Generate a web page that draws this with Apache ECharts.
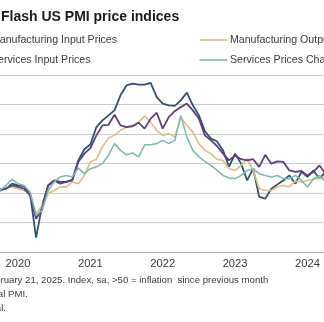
<!DOCTYPE html>
<html>
<head>
<meta charset="utf-8">
<script src="https://cdn.jsdelivr.net/npm/echarts@6/dist/echarts.min.js"></script>
<style>
  html, body { margin: 0; padding: 0; width: 324px; height: 322px; overflow: hidden; background: #fff; }
  #chart { position: absolute; left: -100px; top: 0; width: 544px; height: 322px; }
</style>
</head>
<body>
<div id="chart"></div>
<script>
// Monthly categories, Sep 2019 .. Sep 2024
const months = [
  '2019-09','2019-10','2019-11','2019-12',
  '2020-01','2020-02','2020-03','2020-04','2020-05','2020-06','2020-07','2020-08','2020-09','2020-10','2020-11','2020-12',
  '2021-01','2021-02','2021-03','2021-04','2021-05','2021-06','2021-07','2021-08','2021-09','2021-10','2021-11','2021-12',
  '2022-01','2022-02','2022-03','2022-04','2022-05','2022-06','2022-07','2022-08','2022-09','2022-10','2022-11','2022-12',
  '2023-01','2023-02','2023-03','2023-04','2023-05','2023-06','2023-07','2023-08','2023-09','2023-10','2023-11','2023-12',
  '2024-01','2024-02','2024-03','2024-04','2024-05','2024-06','2024-07','2024-08','2024-09'
];

// Index values, sa (>50 = inflation since previous month)
const mfgInputPrices = [
  51.3, 51.3, 51.5, 53.2,
  52.6, 52.4, 49.8, 34.9, 45.8, 52.6, 54.3, 53.8, 53.8, 54.5, 61.1, 64.9,
  66.5, 72.4, 74.7, 76.4, 78.1, 83.2, 86.6, 87.2, 86.8, 86.8, 87.4, 82.6,
  80.4, 79.8, 79.6, 81.5, 84.1, 79.8, 76.4, 71.0, 68.5, 67.6, 64.5, 58.9,
  63.4, 60.0, 54.3, 58.3, 48.7, 48.1, 51.5, 52.9, 54.3, 56.0, 53.2, 57.2,
  55.5, 57.7, 54.9, 57.2, 56.0, null, null, null, null
];
const mfgOutputPrices = [
  50.6, 50.6, 52.1, 52.1,
  51.5, 50.9, 49.8, 43.0, 45.8, 49.8, 50.9, 52.1, 52.1, 53.8, 53.2, 56.0,
  60.6, 61.5, 65.7, 68.7, 69.6, 71.3, 72.4, 73.0, 74.1, 76.2, 74.1, 71.3,
  69.6, 70.2, 69.0, 75.8, 73.0, 70.7, 66.8, 64.5, 63.4, 61.5, 61.1, 58.3,
  57.7, 59.4, 61.7, 57.7, 51.5, 50.9, 50.9, 52.1, 52.6, 52.1, 54.0, 53.8,
  54.3, 54.7, 55.1, 54.9, 55.0, null, null, null, null
];
const servInputPrices = [
  50.9, 50.9, 51.5, 52.6,
  52.1, 51.5, 49.2, 41.3, 44.7, 52.6, 54.3, 53.2, 53.8, 54.3, 60.6, 63.4,
  65.3, 69.6, 73.0, 73.2, 76.6, 73.0, 72.4, 72.7, 73.9, 71.9, 75.3, 77.3,
  71.9, 75.8, 77.8, 79.2, 80.4, 78.1, 75.3, 69.6, 67.9, 66.0, 63.4, 61.1,
  62.8, 61.5, 61.1, 61.5, 58.9, 63.0, 60.0, 60.8, 60.6, 57.7, 57.2, 57.5,
  56.0, 57.2, 59.4, 56.6, 57.0, null, null, null, null
];
const servPricesCharged = [
  50.9, 50.9, 52.6, 54.7,
  53.2, 52.6, 50.4, 42.5, 44.1, 50.9, 53.8, 55.5, 56.0, 55.5, 58.5, 56.6,
  58.3, 58.9, 60.0, 62.8, 66.8, 64.5, 63.0, 63.6, 62.3, 66.4, 66.4, 66.8,
  67.9, 66.8, 67.9, 76.4, 69.0, 64.5, 62.3, 60.8, 59.4, 57.7, 56.0, 55.1,
  54.9, 56.0, 57.7, 58.3, 56.6, 56.0, 55.5, 56.0, 54.9, 54.9, 56.0, 54.3,
  52.1, 54.9, 56.0, 53.8, 54.0, null, null, null, null
];

const seriesNames = [
  'Manufacturing Input Prices',
  'Manufacturing Output Prices',
  'Services Input Prices',
  'Services Prices Charged'
];
const seriesValues = [mfgInputPrices, mfgOutputPrices, servInputPrices, servPricesCharged];
const seriesColors = ['#34506f', '#dcbd87', '#5d3f7c', '#83b9ad'];
const seriesWidths = [1.8, 1.6, 1.8, 1.6];

const yTicks = [30, 40, 50, 60, 70, 80, 90];

const titleText = 'Flash US PMI price indices';
const footnotes = [
  'Data compiled February 21, 2025. Index, sa, >50 = inflation  since previous month',
  'Source: S&P Global PMI.',
  '\u00a9 2025 S&P Global.'
];

const FONT = 'Arial, "Liberation Sans", sans-serif';
const TXT = '#3a3a3a';

// legend laid out as two columns: [Mfg input, Services input] | [Mfg output, Services charged]
const legendSlots = [
  { col: 0, row: 0 }, { col: 1, row: 0 }, { col: 0, row: 1 }, { col: 1, row: 1 }
];
const colX = [60.5, 299.5];
const rowY = [40, 60];
const legendGraphics = [];
seriesNames.forEach((name, i) => {
  const s = legendSlots[i];
  const x0 = colX[s.col], y0 = rowY[s.row];
  legendGraphics.push({
    type: 'line', shape: { x1: x0, y1: y0, x2: x0 + 28, y2: y0 },
    style: { stroke: seriesColors[i], lineWidth: 1.6 }, silent: true
  });
  legendGraphics.push({
    type: 'text', x: x0 + 30.5, y: y0,
    style: { text: name, fill: TXT, font: '10.6px ' + FONT, textVerticalAlign: 'middle' },
    silent: true
  });
});

const footGraphics = footnotes.map((t, i) => ({
  type: 'text', x: 20, y: 280 + i * 14,
  style: { text: t, fill: TXT, font: '9.6px ' + FONT, textVerticalAlign: 'middle' },
  silent: true
}));

const chart = echarts.init(document.getElementById('chart'), null, { renderer: 'canvas' });
chart.setOption({
  animation: false,
  backgroundColor: '#fff',
  grid: { left: 93.88, right: 88.32, top: 75.3, bottom: 70, containLabel: false },
  xAxis: {
    type: 'category',
    data: months,
    boundaryGap: false,
    axisLine: { show: true, lineStyle: { color: '#b4b4b4', width: 1 } },
    axisTick: { show: false },
    splitLine: { show: false },
    axisLabel: {
      interval: (idx, val) => val.endsWith('-01'),
      formatter: (val) => val.slice(0, 4),
      color: TXT, fontFamily: FONT, fontSize: 11.2, margin: 6
    }
  },
  yAxis: {
    type: 'value',
    min: yTicks[0], max: yTicks[yTicks.length - 1], interval: 10,
    position: 'right',
    axisLine: { show: false },
    axisTick: { show: false },
    axisLabel: { show: false },
    splitLine: { show: true, lineStyle: { color: '#cbcbcb', width: 1 } }
  },
  series: seriesNames.map((name, i) => ({
    name, type: 'line', data: seriesValues[i],
    showSymbol: false, symbol: 'none',
    connectNulls: false,
    lineStyle: { color: seriesColors[i], width: seriesWidths[i] },
    itemStyle: { color: seriesColors[i] },
    z: 2 + i
  })),
  graphic: [
    {
      type: 'text', x: 101, y: 17,
      style: { text: titleText, fill: '#1a1a1a', font: 'bold 14px ' + FONT, textVerticalAlign: 'middle' },
      silent: true
    },
    ...legendGraphics,
    ...footGraphics
  ]
});
</script>
</body>
</html>
